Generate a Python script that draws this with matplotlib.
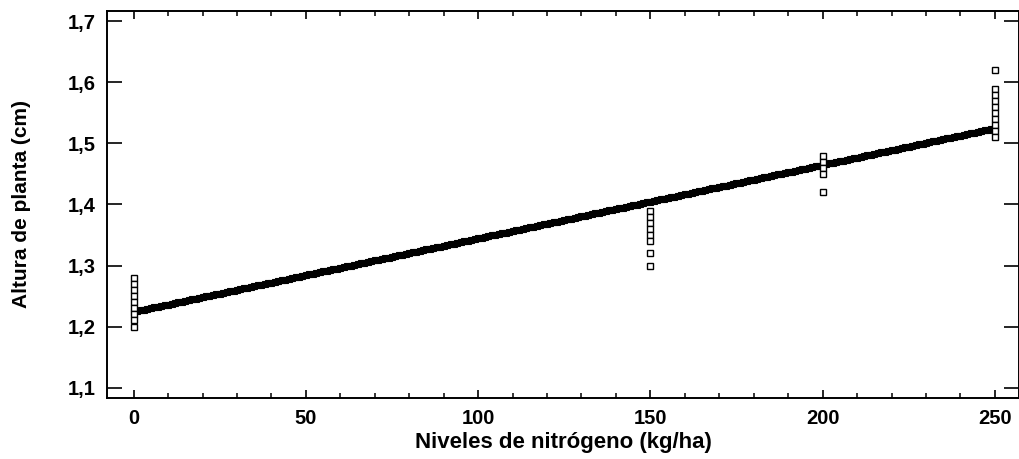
import matplotlib
matplotlib.use("Agg")
import matplotlib.pyplot as plt
import numpy as np
from matplotlib.ticker import FuncFormatter, MultipleLocator

# Observed plant heights by nitrogen level
nitrogen_levels = [0, 150, 200, 250]
heights_0 = [1.28, 1.27, 1.26, 1.25, 1.24, 1.23, 1.22, 1.21, 1.20]
heights_150 = [1.39, 1.38, 1.37, 1.36, 1.35, 1.34, 1.32, 1.30]
heights_200 = [1.48, 1.47, 1.46, 1.45, 1.42]
heights_250 = [1.62, 1.59, 1.58, 1.57, 1.56, 1.55, 1.54, 1.53, 1.52, 1.51]

# Fitted linear model
intercept = 1.224
slope = 0.001204

plt.rcParams["font.family"] = ["Liberation Sans", "DejaVu Sans"]
plt.rcParams["font.weight"] = "bold"

fig = plt.figure(figsize=(10.2, 4.59), dpi=100)
ax = fig.add_axes([0.105, 0.133, 0.894, 0.843])

# regression line drawn as a dense run of small squares
x_fit = np.arange(0, 250.5, 1.0)
ax.plot(x_fit, intercept + slope * x_fit, ls="none", marker="s", ms=4.4,
        mfc="black", mec="black", mew=0.8, zorder=2)

groups = [heights_0, heights_150, heights_200, heights_250]
for x, ys in zip(nitrogen_levels, groups):
    ax.plot([x] * len(ys), ys, ls="none", marker="s", ms=4.6,
            mfc="white", mec="black", mew=1.0, zorder=3)

ax.set_xlim(-7.7, 257)
ax.set_ylim(1.083, 1.717)

ax.xaxis.set_major_locator(MultipleLocator(50))
ax.xaxis.set_minor_locator(MultipleLocator(10))
ax.yaxis.set_major_locator(MultipleLocator(0.1))
ax.yaxis.set_major_formatter(FuncFormatter(lambda v, p: f"{v:.1f}".replace(".", ",")))

ax.tick_params(axis="x", which="major", direction="in", length=6, width=1.2,
               top=True, labelsize=14.5, pad=8)
ax.tick_params(axis="x", which="minor", direction="in", length=3.5, width=1.1, top=True)
ax.tick_params(axis="y", which="major", direction="in", length=11, width=1.2,
               right=True, labelsize=14.5, pad=8.5)
for lab in ax.get_xticklabels() + ax.get_yticklabels():
    lab.set_fontweight("bold")

for sp in ax.spines.values():
    sp.set_linewidth(1.4)

ax.set_xlabel("Niveles de nitrógeno (kg/ha)", fontsize=16, fontweight="bold", labelpad=3)
ax.set_ylabel("Altura de planta (cm)", fontsize=15, fontweight="bold", labelpad=26)

fig.savefig("out.png", dpi=100)
